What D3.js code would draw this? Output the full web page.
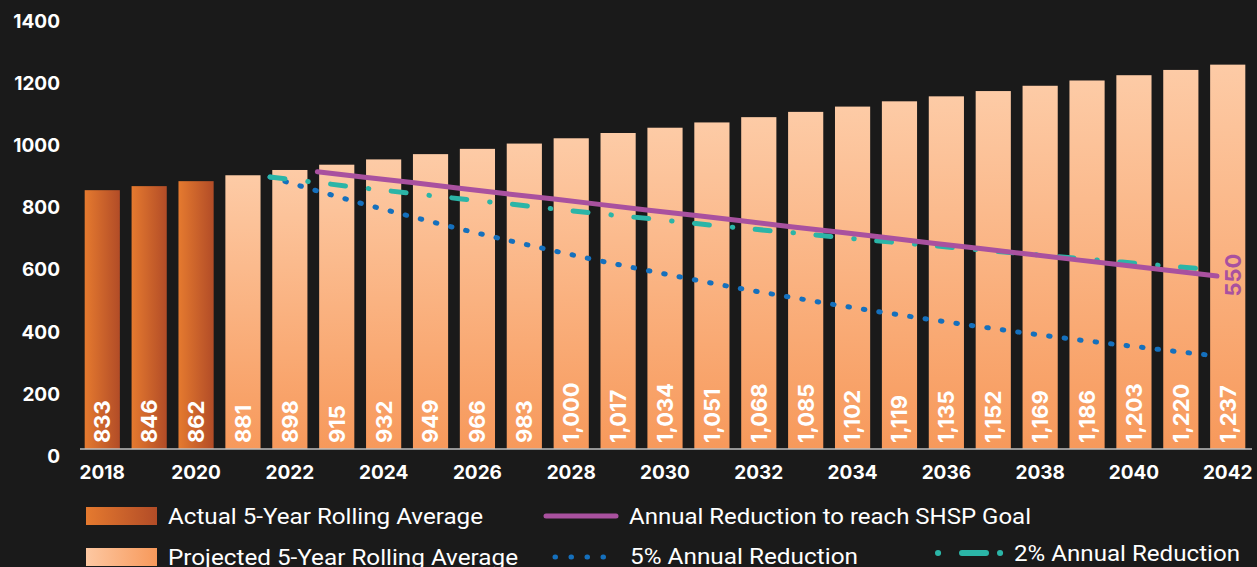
<!DOCTYPE html>
<html>
<head>
<meta charset="utf-8">
<script src="https://cdn.jsdelivr.net/npm/d3@7"></script>
<style>
  body { margin: 0; background: #1a1a1a; }
  svg { display: block; }
</style>
</head>
<body>
<div id="chart"></div>
<script>
// data
var years = d3.range(2018, 2043);
var barValues = [833, 846, 862, 881, 898, 915, 932, 949, 966, 983, 1000, 1017, 1034, 1051,
  1068, 1085, 1102, 1119, 1135, 1152, 1169, 1186, 1203, 1220, 1237];
var actualYears = [2018, 2019, 2020];
var yTicks = [0, 200, 400, 600, 800, 1000, 1200, 1400];
var xTicks = [2018, 2020, 2022, 2024, 2026, 2028, 2030, 2032, 2034, 2036, 2038, 2040, 2042];

var goalYears = d3.range(2023, 2043);
var goalValues = [915, 897, 880, 862, 844, 827, 809, 791, 774, 756, 738, 721, 703, 685, 668, 650, 632, 615, 597, 579];
var redYears = d3.range(2022, 2043);
var fivePct = [898, 853, 810, 770, 731, 695, 660, 627, 596, 566, 537, 511, 485, 461, 438, 416, 395, 375, 357, 339, 322];
var twoPct = [898, 880, 862, 845, 828, 812, 795, 779, 764, 748, 733, 719, 704, 690, 677, 663, 650, 637, 624, 611, 599];
var goalLabel = "550";

var width = 1257, height = 567;

var svg = d3.select("#chart")
  .append("svg")
  .attr("width", width)
  .attr("height", height)
  .style("background", "#1a1a1a");

var defs = svg.append("defs");

// actual bars: horizontal gradient
var gA = defs.append("linearGradient").attr("id", "gradActual")
  .attr("x1", "0").attr("y1", "0").attr("x2", "1").attr("y2", "0");
gA.append("stop").attr("offset", "0%").attr("stop-color", "#e57a2f");
gA.append("stop").attr("offset", "100%").attr("stop-color", "#b24c27");

// projected bars: vertical gradient
var gP = defs.append("linearGradient").attr("id", "gradProj")
  .attr("x1", "0").attr("y1", "0").attr("x2", "0").attr("y2", "1");
gP.append("stop").attr("offset", "0%").attr("stop-color", "#fdcba6");
gP.append("stop").attr("offset", "100%").attr("stop-color", "#f7995b");

// projected legend swatch: horizontal
var gPL = defs.append("linearGradient").attr("id", "gradProjLeg")
  .attr("x1", "0").attr("y1", "0").attr("x2", "1").attr("y2", "0");
gPL.append("stop").attr("offset", "0%").attr("stop-color", "#fdc8a2");
gPL.append("stop").attr("offset", "100%").attr("stop-color", "#f7995b");

// scales
var x = d3.scaleBand()
  .domain(years)
  .range([80, 1250])
  .paddingInner(0.25)
  .paddingOuter(0.1);

var y = d3.scaleLinear().domain([0, 1400]).range([449, 14]);
// line series sit on a slightly shifted axis
var yL = d3.scaleLinear().domain([0, 1400]).range([456, 21]);
var xL = d3.scaleLinear().domain([2022, 2042]).range([270, 1217]);

// bars
svg.append("g")
  .selectAll("rect")
  .data(years)
  .enter()
  .append("rect")
    .attr("x", function(d) { return x(d); })
    .attr("y", function(d, i) { return y(barValues[i]); })
    .attr("width", x.bandwidth())
    .attr("height", function(d, i) { return y(0) - y(barValues[i]); })
    .attr("fill", function(d) { return actualYears.indexOf(d) >= 0 ? "url(#gradActual)" : "url(#gradProj)"; });

// bar labels
svg.append("g")
  .selectAll("text")
  .data(years)
  .enter()
  .append("text")
    .attr("transform", function(d) {
      return "translate(" + (x(d) + x.bandwidth() / 2) + ",443) rotate(-90)";
    })
    .attr("dy", "0.36em")
    .text(function(d, i) { return d3.format(",")(barValues[i]); })
    .attr("fill", "white")
    .style("font-family", "Inter, 'Liberation Sans', sans-serif")
    .style("font-weight", "bold")
    .style("font-size", "22px");

// baseline
svg.append("line")
  .attr("x1", 80).attr("x2", 1252)
  .attr("y1", y(0)).attr("y2", y(0))
  .attr("stroke", "#bfbfbf")
  .attr("stroke-width", 1.5);

// y labels
svg.append("g")
  .selectAll("text")
  .data(yTicks)
  .enter()
  .append("text")
    .attr("x", 60)
    .attr("y", function(d) { return yL(d); })
    .attr("dy", "0.36em")
    .attr("text-anchor", "end")
    .text(function(d) { return d; })
    .attr("fill", "white")
    .style("font-family", "Inter, 'Liberation Sans', sans-serif")
    .style("font-weight", "bold")
    .style("font-size", "19px");

// x labels
svg.append("g")
  .selectAll("text")
  .data(xTicks)
  .enter()
  .append("text")
    .attr("x", function(d) { return x(d) + x.bandwidth() / 2; })
    .attr("y", 472)
    .attr("dy", "0.36em")
    .attr("text-anchor", "middle")
    .text(function(d) { return d; })
    .attr("fill", "white")
    .style("font-family", "Inter, 'Liberation Sans', sans-serif")
    .style("font-weight", "bold")
    .style("font-size", "19px");

// lines
var line = d3.line()
  .x(function(d) { return xL(d[0]); })
  .y(function(d) { return yL(d[1]); });

var fiveStyle = { color: "#1570bd", dash: "1.5,14.1" };
var twoStyle = { color: "#2bb5a7", dash: "15,23,0.5,22.5" };

svg.append("path")
  .datum(d3.zip(redYears, fivePct))
  .attr("d", line)
  .attr("fill", "none")
  .attr("stroke", fiveStyle.color)
  .attr("stroke-width", 5)
  .attr("stroke-linecap", "round")
  .attr("stroke-dasharray", fiveStyle.dash);

svg.append("path")
  .datum(d3.zip(redYears, twoPct))
  .attr("d", line)
  .attr("fill", "none")
  .attr("stroke", twoStyle.color)
  .attr("stroke-width", 5)
  .attr("stroke-linecap", "round")
  .attr("stroke-dasharray", twoStyle.dash);

svg.append("path")
  .datum(d3.zip(goalYears, goalValues))
  .attr("d", line)
  .attr("fill", "none")
  .attr("stroke", "#a9519f")
  .attr("stroke-width", 5)
  .attr("stroke-linecap", "round");

// goal label
svg.append("text")
  .attr("transform", "translate(" + (xL(2042) + 16) + "," + (yL(goalValues[goalValues.length - 1]) - 1) + ") rotate(-90)")
  .attr("text-anchor", "middle")
  .attr("dy", "0.36em")
  .text(goalLabel)
  .attr("fill", "#a9519f")
  .style("font-family", "Inter, 'Liberation Sans', sans-serif")
  .style("font-weight", "bold")
  .style("font-size", "22px");

// legend
var legend = svg.append("g");
var legFont = "Roboto, 'Liberation Sans', sans-serif";

legend.append("rect").attr("x", 86).attr("y", 507).attr("width", 71).attr("height", 18)
  .attr("fill", "url(#gradActual)");
legend.append("rect").attr("x", 86).attr("y", 548).attr("width", 71).attr("height", 18)
  .attr("fill", "url(#gradProjLeg)");

legend.append("line").attr("x1", 546).attr("x2", 616).attr("y1", 516).attr("y2", 516)
  .attr("stroke", "#a9519f").attr("stroke-width", 5).attr("stroke-linecap", "round");

legend.append("line").attr("x1", 555).attr("x2", 604).attr("y1", 557).attr("y2", 557)
  .attr("stroke", fiveStyle.color).attr("stroke-width", 5).attr("stroke-linecap", "round")
  .attr("stroke-dasharray", "0.5,15.5");

legend.append("line").attr("x1", 938).attr("x2", 1001).attr("y1", 553).attr("y2", 553)
  .attr("stroke", twoStyle.color).attr("stroke-width", 6).attr("stroke-linecap", "round")
  .attr("stroke-dasharray", "0.1,23.9,24,14,0.1,60");

var legItems = [
  { text: "Actual 5-Year Rolling Average", x: 168, y: 516, w: 315 },
  { text: "Projected 5-Year Rolling Average", x: 168, y: 557, w: 350 },
  { text: "Annual Reduction to reach SHSP Goal", x: 629, y: 516, w: 402 },
  { text: "5% Annual Reduction", x: 630, y: 556, w: 228 },
  { text: "2% Annual Reduction", x: 1014, y: 553, w: 226 }
];

legend.selectAll("text")
  .data(legItems)
  .enter()
  .append("text")
    .attr("x", function(d) { return d.x; })
    .attr("y", function(d) { return d.y; })
    .attr("dy", "0.36em")
    .attr("textLength", function(d) { return d.w; })
    .attr("lengthAdjust", "spacingAndGlyphs")
    .text(function(d) { return d.text; })
    .attr("fill", "white")
    .style("font-family", legFont)
    .style("font-size", "22px");
</script>
</body>
</html>
